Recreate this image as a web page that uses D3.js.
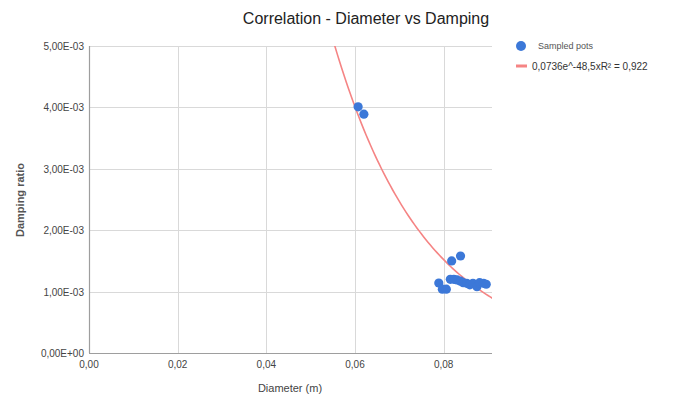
<!DOCTYPE html>
<html><head><meta charset="utf-8">
<script src="https://cdn.jsdelivr.net/npm/d3@7"></script>
<style>body{margin:0;background:#fff;font-family:Arial,"Liberation Sans",sans-serif}</style>
</head><body><svg id="c" width="688" height="398"></svg>
<script>
const diameters = [0.0607,0.0620,0.0789,0.0797,0.0806,0.0818,0.0838,0.0815,0.0823,0.0830,0.0838,0.0844,0.0852,0.0859,0.0866,0.0875,0.0881,0.0890,0.0896];
const damping   = [4.01e-3,3.89e-3,1.14e-3,1.04e-3,1.04e-3,1.50e-3,1.58e-3,1.20e-3,1.20e-3,1.19e-3,1.17e-3,1.145e-3,1.135e-3,1.11e-3,1.135e-3,1.08e-3,1.145e-3,1.135e-3,1.12e-3];
const xTicks = [0,0.02,0.04,0.06,0.08];
const yTicks = [0,1e-3,2e-3,3e-3,4e-3,5e-3];
const trendA = 0.0736, trendB = -48.5;
const legendLabels = ["Sampled pots","0,0736e^-48,5xR² = 0,922"];

const svg = d3.select("#c");
const L=89,R=492,T=46,B=353;
const x = d3.scaleLinear().domain([0,0.0909]).range([L,R]);
const y = d3.scaleLinear().domain([0,5e-3]).range([B,T]);
const fmtX = d=>d3.format(".2f")(d).replace(".",",");
const fmtY = d=>{ if(d===0) return "0,00E+00"; const e=Math.floor(Math.log10(d)+1e-9); const m=d/Math.pow(10,e); return m.toFixed(2).replace(".",",")+"E-"+String(-e).padStart(2,"0"); };

// gridlines
svg.append("g").selectAll("line").data(xTicks.slice(1)).join("line")
  .attr("x1",d=>Math.round(x(d))+0.5).attr("x2",d=>Math.round(x(d))+0.5).attr("y1",T).attr("y2",B)
  .attr("stroke","#d9d9d9");
svg.append("g").selectAll("line").data(yTicks.slice(1)).join("line")
  .attr("x1",L).attr("x2",R).attr("y1",d=>Math.round(y(d))+0.5).attr("y2",d=>Math.round(y(d))+0.5)
  .attr("stroke","#d9d9d9");
// axes
svg.append("line").attr("x1",L+0.5).attr("x2",L+0.5).attr("y1",T).attr("y2",B).attr("stroke","#9e9e9e").attr("stroke-width",1.2);
svg.append("line").attr("x1",L).attr("x2",R).attr("y1",B+0.5).attr("y2",B+0.5).attr("stroke","#9e9e9e").attr("stroke-width",1.2);

svg.append("g").selectAll("text").data(xTicks).join("text")
  .attr("x",d=>x(d)).attr("y",B+15).attr("text-anchor","middle")
  .attr("font-size",10).attr("fill","#444").text(fmtX);
svg.append("g").selectAll("text").data(yTicks).join("text")
  .attr("x",L-5).attr("y",d=>y(d)+4).attr("text-anchor","end")
  .attr("font-size",10).attr("fill","#444").text(fmtY);

// titles
svg.append("text").attr("x",366).attr("y",24).attr("text-anchor","middle").attr("font-size",16).attr("fill","#222").text("Correlation - Diameter vs Damping");
svg.append("text").attr("x",290).attr("y",392).attr("text-anchor","middle").attr("font-size",11).attr("fill","#444").text("Diameter (m)");
svg.append("text").attr("transform","translate(24,200) rotate(-90)").attr("text-anchor","middle").attr("font-size",11).attr("font-weight","bold").attr("fill","#555").text("Damping ratio");

// trendline
const clip = svg.append("clipPath").attr("id","pc").append("rect").attr("x",L).attr("y",T).attr("width",R-L).attr("height",B-T);
const xs = d3.range(0.05,0.0915,0.0005);
svg.append("path").attr("clip-path","url(#pc)")
  .datum(xs).attr("d",d3.line().x(d=>x(d)).y(d=>y(trendA*Math.exp(trendB*d))))
  .attr("fill","none").attr("stroke","#f58484").attr("stroke-width",1.6);

// points
svg.append("g").selectAll("circle").data(diameters.map((d,i)=>[d,damping[i]])).join("circle")
  .attr("cx",d=>x(d[0])).attr("cy",d=>y(d[1])).attr("r",4.6).attr("fill","#3c78d8");

// legend
svg.append("circle").attr("cx",521).attr("cy",46).attr("r",5).attr("fill","#3c78d8");
svg.append("text").attr("x",538).attr("y",49).attr("font-size",9).attr("fill","#555").text(legendLabels[0]);
svg.append("rect").attr("x",516).attr("y",64.5).attr("width",11).attr("height",3).attr("fill","#f58484");
svg.append("text").attr("x",532).attr("y",70).attr("font-size",10).attr("fill","#333").text(legendLabels[1]);
</script></body></html>
